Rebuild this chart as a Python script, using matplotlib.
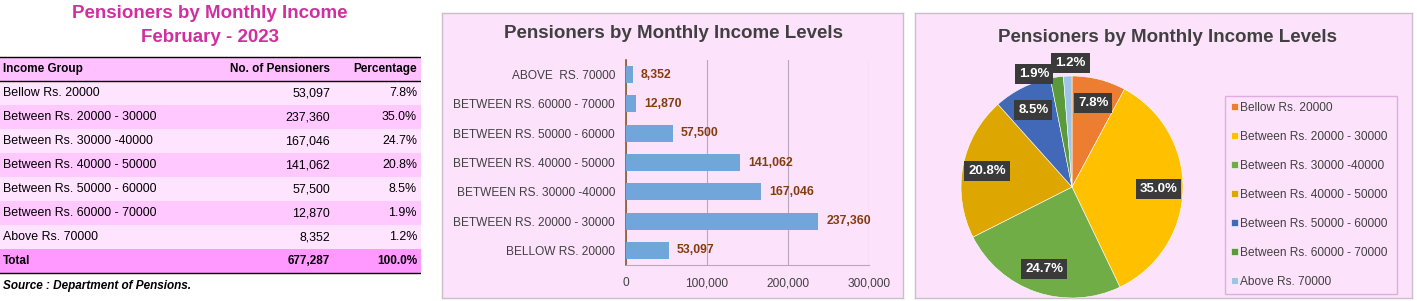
import matplotlib.pyplot as plt
from matplotlib.patches import Rectangle
import numpy as np

plt.rcParams['font.family'] = ['Liberation Sans', 'DejaVu Sans']

W, H = 1417, 301

groups = ['Bellow Rs. 20000', 'Between Rs. 20000 - 30000', 'Between Rs. 30000 -40000',
          'Between Rs. 40000 - 50000', 'Between Rs. 50000 - 60000', 'Between Rs. 60000 - 70000',
          'Above Rs. 70000']
bar_labels = ['BELLOW RS. 20000', 'BETWEEN RS. 20000 - 30000', 'BETWEEN RS. 30000 -40000',
              'BETWEEN RS. 40000 - 50000', 'BETWEEN RS. 50000 - 60000', 'BETWEEN RS. 60000 - 70000',
              'ABOVE  RS. 70000']
pensioners = [53097, 237360, 167046, 141062, 57500, 12870, 8352]
pie_colors = ['#ED7D31', '#FFC000', '#70AD47', '#DDA600', '#4169B8', '#5A9A3A', '#9DC3E6']

total = sum(pensioners)
percents = [v / total * 100 for v in pensioners]

PANEL_BG = '#FDE2FC'
TEXT = '#404040'


def rect(x0, y0, x1, y1):
    return [x0 / W, 1 - y1 / H, (x1 - x0) / W, (y1 - y0) / H]


fig = plt.figure(figsize=(W / 100, H / 100), dpi=100)
fig.patch.set_facecolor('white')

# ---------- table ----------
tab = fig.add_axes(rect(0, 0, 421, 301))
tab.set_xlim(0, 421)
tab.set_ylim(301, 0)
tab.axis('off')

tab.text(210, 14, 'Pensioners by Monthly Income', ha='center', va='center',
         fontsize=13.5, fontweight='bold', color='#D0309F')
tab.text(210, 37, 'February - 2023', ha='center', va='center',
         fontsize=13.5, fontweight='bold', color='#D0309F')

row_h = 24
top = 57
fs = 8.9
tab.add_patch(Rectangle((0, top), 421, row_h, fc='#FFC0FF', ec='none'))
tab.text(3, top + row_h / 2, 'Income Group', ha='left', va='center', fontsize=8.5, fontweight='bold', color='black')
tab.text(330, top + row_h / 2, 'No. of Pensioners', ha='right', va='center', fontsize=8.5, fontweight='bold', color='black')
tab.text(417, top + row_h / 2, 'Percentage', ha='right', va='center', fontsize=8.5, fontweight='bold', color='black')
tab.plot([0, 421], [top, top], color='black', lw=1)
tab.plot([0, 421], [top + row_h, top + row_h], color='black', lw=1)

for i, (g, v, p) in enumerate(zip(groups, pensioners, percents)):
    y0 = top + row_h * (i + 1)
    fc = '#FFE4FF' if i % 2 == 0 else '#FFC8FF'
    tab.add_patch(Rectangle((0, y0), 421, row_h, fc=fc, ec='none'))
    yc = y0 + row_h / 2
    tab.text(3, yc, g, ha='left', va='center', fontsize=fs, color='black')
    tab.text(330, yc, f'{v:,}', ha='right', va='center', fontsize=fs, color='black')
    tab.text(417, yc, f'{p:.1f}%', ha='right', va='center', fontsize=fs, color='black')

y0 = top + row_h * (len(groups) + 1)
tab.add_patch(Rectangle((0, y0), 421, row_h, fc='#FF99FF', ec='none'))
tab.text(3, y0 + row_h / 2, 'Total', ha='left', va='center', fontsize=8.5, fontweight='bold', color='black')
tab.text(330, y0 + row_h / 2, f'{total:,}', ha='right', va='center', fontsize=8.5, fontweight='bold', color='black')
tab.text(417, y0 + row_h / 2, f'{sum(percents):.1f}%', ha='right', va='center', fontsize=8.5, fontweight='bold', color='black')
tab.plot([0, 421], [y0 + row_h, y0 + row_h], color='black', lw=1)
tab.text(3, 286, 'Source : Department of Pensions.', ha='left', va='center',
         fontsize=8.5, fontweight='bold', fontstyle='italic', color='black')

# ---------- panel backgrounds ----------
for x0, x1 in [(442, 903), (915, 1412)]:
    bg = fig.add_axes(rect(x0, 13, x1, 298))
    bg.set_facecolor(PANEL_BG)
    bg.set_xticks([])
    bg.set_yticks([])
    for s in bg.spines.values():
        s.set_color('#C8C0C8')
        s.set_linewidth(1)

# ---------- bar chart ----------
fig.text(673 / W, 1 - 33 / H, 'Pensioners by Monthly Income Levels', ha='center', va='center',
         fontsize=13.5, fontweight='bold', color=TEXT)

ax = fig.add_axes(rect(626, 60, 869, 265))
ax.patch.set_alpha(0)
y = np.arange(len(pensioners))
ax.barh(y, pensioners, height=0.58, color='#71A6DB', zorder=3)
ax.set_xlim(0, 300000)
ax.set_ylim(-0.5, len(pensioners) - 0.5)
ax.set_yticks(y)
ax.set_yticklabels(bar_labels, fontsize=8.6, color=TEXT)
ax.set_xticks([0, 100000, 200000, 300000])
ax.set_xticklabels(['0', '100,000', '200,000', '300,000'], fontsize=8.6, color=TEXT)
ax.tick_params(length=0, pad=8)
ax.tick_params(axis='x', pad=9)
ax.grid(axis='x', color='#B8A8B8', lw=0.8, zorder=0)
for s in ['top', 'right']:
    ax.spines[s].set_visible(False)
ax.spines['left'].set_color('#8B5A2B')
ax.spines['left'].set_linewidth(1.2)
ax.spines['bottom'].set_color('#B8A8B8')
for yi, v in zip(y, pensioners):
    ax.text(v + 10000, yi, f'{v:,}', ha='left', va='center', fontsize=8.8,
            fontweight='bold', color='#843C0C', zorder=4)

# ---------- pie chart ----------
fig.text(1168 / W, 1 - 37 / H, 'Pensioners by Monthly Income Levels', ha='center', va='center',
         fontsize=13.5, fontweight='bold', color=TEXT)

R = 111
cx, cy = 1072, 187
ext = 130
pax = fig.add_axes(rect(cx - ext, cy - ext, cx + ext, cy + ext))
pax.patch.set_alpha(0)
wedges, _ = pax.pie(pensioners, colors=pie_colors, startangle=90, counterclock=False,
                    radius=1.0, wedgeprops=dict(edgecolor='white', linewidth=0.4))
lim = ext / R
pax.set_xlim(-lim, lim)
pax.set_ylim(-lim, lim)
pax.set_aspect('equal')
pax.axis('off')

for i, (w, p) in enumerate(zip(wedges, percents)):
    ang = np.deg2rad((w.theta1 + w.theta2) / 2)
    if p < 3:
        r = 1.03 if i == 5 else 1.12
        dx = -0.2 if i == 5 else 0.03
    else:
        r = 0.78
        dx = 0
    pax.text(r * np.cos(ang) + dx, r * np.sin(ang), f'{p:.1f}%', ha='center', va='center',
             fontsize=9.5, fontweight='bold', color='white', clip_on=False,
             bbox=dict(boxstyle='square,pad=0.3', fc='#3A3A3A', ec='none'))

leg = pax.legend(wedges, groups, loc='upper left',
                 bbox_to_anchor=(1225 / W, 1 - 96 / H, 172 / W, 0), bbox_transform=fig.transFigure,
                 mode='expand', fontsize=8.6, frameon=True, fancybox=False,
                 handlelength=0.55, handleheight=0.55, handletextpad=0.2,
                 labelspacing=1.42, borderpad=0.5, borderaxespad=0)
leg.get_frame().set_edgecolor('#D9A0D9')
leg.get_frame().set_facecolor(PANEL_BG)
leg.get_frame().set_linewidth(1)
for t in leg.get_texts():
    t.set_color(TEXT)

fig.savefig('out.png', dpi=100)
